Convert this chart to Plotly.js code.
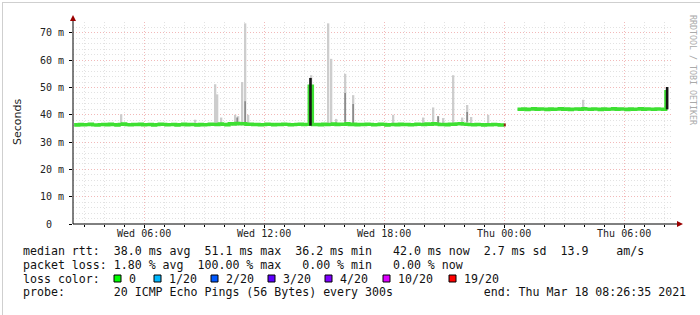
<!DOCTYPE html>
<html><head><meta charset="utf-8">
<script src="https://cdn.plot.ly/plotly-3.0.1.min.js"></script>
<style>html,body{margin:0;padding:0;background:#fff;} #chart{width:700px;height:315px;}</style>
</head><body><div id="chart"></div>
<script>
// ---- data ----
const xStart = '2021-03-17 02:26:35';
const xEnd = '2021-03-18 08:26:35';
const stepMinutes = 10;

const seg1Start = '2021-03-17 02:30';
const seg1Median = [
 36.4,36.2,36.5,36.3,36.4,36.6,36.3,36.2,36.4,36.5,
 36.3,36.6,36.4,36.2,36.5,36.7,36.4,36.3,36.5,36.4,
 36.6,36.3,36.4,36.5,36.2,36.4,36.6,36.5,36.3,36.4,
 36.5,36.2,36.4,36.6,36.3,36.5,36.4,36.2,36.5,36.3,
 36.4,36.6,36.5,36.4,36.7,36.5,36.3,36.8,36.6,36.9,
 36.7,36.8,36.5,36.6,36.4,36.5,36.3,36.4,36.6,36.5,
 36.3,36.5,36.4,36.6,36.5,36.3,36.4,36.5,36.6,36.4,
 36.5,50.5,36.4,36.5,36.3,36.6,36.4,36.5,36.7,36.4,
 36.6,36.5,36.8,36.4,36.6,36.3,36.5,36.4,36.6,36.5,
 36.3,36.4,36.6,36.5,36.2,36.4,36.5,36.3,36.6,36.4,
 36.5,36.3,36.4,36.6,36.5,36.4,36.7,36.5,36.8,36.6,
 36.4,36.5,36.3,36.6,36.5,36.7,36.8,36.6,36.5,36.4,
 36.3,36.5,36.4,36.2,36.4,36.3,36.5,36.4,36.2,36.3
];
const seg2Start = '2021-03-18 00:40';
const seg2Median = [
 42.1,42.0,42.2,41.9,42.1,42.3,42.0,42.2,42.1,41.9,
 42.2,42.0,42.1,42.3,42.0,42.2,41.9,42.1,42.2,42.0,
 42.3,42.1,42.0,42.2,42.1,41.9,42.2,42.0,42.1,42.3,
 42.0,42.2,42.1,41.9,42.2,42.0,42.1,42.3,42.0,42.2,
 42.1,42.0,42.2,42.1,42.0,48.5
];
const lossTailTimes = ['2021-03-17 23:59','2021-03-18 00:05'];
const lossTailValues = [36.3, 36.3];

const smokeTimes = ['2021-03-17 04:51','2021-03-17 08:33','2021-03-17 09:33','2021-03-17 09:39','2021-03-17 09:51','2021-03-17 10:33','2021-03-17 10:42','2021-03-17 10:54','2021-03-17 11:03','2021-03-17 11:12','2021-03-17 14:21','2021-03-17 15:12','2021-03-17 15:21','2021-03-17 15:36','2021-03-17 16:03','2021-03-17 16:27','2021-03-17 18:27','2021-03-17 19:57','2021-03-17 20:27','2021-03-17 20:42','2021-03-17 20:57','2021-03-17 21:27','2021-03-17 21:54','2021-03-17 22:09','2021-03-17 22:21','2021-03-17 23:12','2021-03-18 03:57'];
const smokeLow = [36.5,36.5,36.5,36.5,36.5,36.5,36.5,36.5,36.5,36.5,36.5,36.5,36.5,36.5,36.5,36.5,36.5,36.5,36.5,36.5,36.5,36.5,36.5,36.5,36.5,36.5,42.2];
const smokeHigh = [40.2,38.2,51.2,47.5,39.0,40.0,39.5,52.0,73.5,40.0,54.5,73.5,60.5,38.5,55.0,47.2,40.0,39.0,42.7,39.5,38.8,54.5,39.0,43.6,39.2,40.0,45.5];

const midTimes = ['2021-03-17 10:39','2021-03-17 11:03','2021-03-17 16:03','2021-03-17 16:27','2021-03-17 20:42','2021-03-17 22:09'];
const midLow = [37.0,37.0,37.5,37.0,37.0,37.5];
const midHigh = [39.0,45.0,48.0,44.0,39.5,41.0];

const blackTimes = ['2021-03-17 14:19','2021-03-18 08:09'];
const blackLow = [36.0,42.0];
const blackHigh = [53.5,50.2];

const xTickVals = ['2021-03-17 06:00','2021-03-17 12:00','2021-03-17 18:00','2021-03-18 00:00','2021-03-18 06:00'];
const xTickText = ['Wed 06:00','Wed 12:00','Wed 18:00','Thu 00:00','Thu 06:00'];
const yTickVals = [0,10,20,30,40,50,60,70];
const yTickText = ['0  ','10 m','20 m','30 m','40 m','50 m','60 m','70 m'];

const statLines = [
 'median rtt:  38.0 ms avg  51.1 ms max  36.2 ms min   42.0 ms now  2.7 ms sd  13.9    am/s',
 'packet loss: 1.80 % avg  100.00 % max   0.00 % min   0.00 % now',
 'loss color:',
 'probe:       20 ICMP Echo Pings (56 Bytes) every 300s             end: Thu Mar 18 08:26:35 2021'
];
const lossLabels = ['0','1/20','2/20','3/20','4/20','10/20','19/20'];
const lossColors = ['#00ff00','#00b8ff','#0059ff','#5e00ff','#7e00ff','#dd00ff','#ff0000'];
const yTitle = 'Seconds';
const watermark = 'RRDTOOL / TOBI OETIKER';

// ---- helpers ----
function makeTimes(start, n, stepMin){
  const t0 = Date.parse(start.replace(' ','T') + ':00Z');
  const out = [];
  for (let i=0;i<n;i++){
    out.push(new Date(t0 + i*stepMin*60000).toISOString().slice(0,19).replace('T',' '));
  }
  return out;
}
const L=73, R=673, T=22, B=224;
const W=R-L, H=B-T;
const px = p => (p-L)/W;
const py = p => (B-p)/H;
const nb = s => s.replace(/ /g,'\u00a0');

function barTrace(times, low, high, color, widthMin){
  return {type:'bar', x:times, base:low, y:high.map((h,i)=>h-low[i]),
    width:times.map(()=>widthMin*60000), marker:{color:color, line:{width:0}},
    hoverinfo:'skip'};
}
function segTrace(times, low, high, color, w){
  const x=[], y=[];
  times.forEach((t,i)=>{ x.push(t,t,null); y.push(low[i],high[i],null); });
  return {type:'scatter', mode:'lines', x:x, y:y, connectgaps:false, line:{color:color, width:w}, hoverinfo:'skip'};
}

const green = '#3ee032';
const traces = [
  barTrace(smokeTimes, smokeLow, smokeHigh, '#cdcdcd', 7),
  barTrace(midTimes, midLow, midHigh, '#8a8a8a', 5),
  {type:'scatter', mode:'lines', x:makeTimes(seg1Start, seg1Median.length, stepMinutes), y:seg1Median,
   line:{color:green, width:3.2, shape:'hvh'}, hoverinfo:'skip'},
  {type:'scatter', mode:'lines', x:makeTimes(seg2Start, seg2Median.length, stepMinutes), y:seg2Median,
   line:{color:green, width:3.2, shape:'hvh'}, hoverinfo:'skip'},
  {type:'scatter', mode:'lines', x:lossTailTimes, y:lossTailValues,
   line:{color:'#8b2a10', width:3}, hoverinfo:'skip'},
  segTrace(blackTimes, blackLow, blackHigh, '#151515', 2.6)
];

const mono = 'DejaVu Sans Mono';
const annotations = [];
const lineY = [251.5, 265, 278.5, 292];
statLines.forEach((s,i)=>{
  annotations.push({xref:'paper', yref:'paper', x:px(22), y:py(lineY[i]), xanchor:'left', yanchor:'middle',
    text:nb(s), showarrow:false, borderpad:0, font:{family:mono, size:11.6, color:'#111'}});
});
const boxX = [114,154,211,268,325,383,449];
const shapes = [];
lossLabels.forEach((lab,i)=>{
  annotations.push({xref:'paper', yref:'paper', x:px(boxX[i]+14), y:py(lineY[2]), xanchor:'left', yanchor:'middle',
    text:lab, showarrow:false, borderpad:0, font:{family:mono, size:11.6, color:'#111'}});
  shapes.push({type:'rect', xref:'paper', yref:'paper', x0:px(boxX[i]), x1:px(boxX[i]+7), y0:py(282), y1:py(275),
    fillcolor:lossColors[i], line:{color:'#000', width:1}});
});
annotations.push({xref:'paper', yref:'paper', x:px(17), y:py(122), xanchor:'center', yanchor:'middle', textangle:-90,
  text:yTitle, showarrow:false, borderpad:0, font:{family:'DejaVu Sans', size:11, color:'#222'}});
annotations.push({xref:'paper', yref:'paper', x:px(693), y:py(70), xanchor:'center', yanchor:'middle', textangle:90,
  text:nb(watermark), showarrow:false, borderpad:0, font:{family:mono, size:8.3, color:'#aaa'}});

// axes lines, arrows, frame
shapes.push({type:'line', xref:'paper', yref:'paper', x0:px(73), x1:px(679), y0:0, y1:0, line:{color:'#000', width:1}, layer:'above'});
shapes.push({type:'line', xref:'paper', yref:'paper', x0:0, x1:0, y0:0, y1:py(18), line:{color:'#000', width:1}, layer:'above'});
shapes.push({type:'path', xref:'paper', yref:'paper', layer:'above',
  path:`M ${px(73)},${py(15)} L ${px(70)},${py(21)} L ${px(76)},${py(21)} Z`, fillcolor:'#9a0000', line:{width:0}});
shapes.push({type:'path', xref:'paper', yref:'paper', layer:'above',
  path:`M ${px(683)},${py(224)} L ${px(677)},${py(221)} L ${px(677)},${py(227)} Z`, fillcolor:'#9a0000', line:{width:0}});
shapes.push({type:'line', xref:'paper', yref:'paper', x0:px(2), x1:px(700), y0:py(2.5), y1:py(2.5), line:{color:'#cfcfcf', width:1}});
shapes.push({type:'line', xref:'paper', yref:'paper', x0:px(2.5), x1:px(2.5), y0:py(2.5), y1:py(315), line:{color:'#cfcfcf', width:1}});

const majorGrid = '#f2b9b9';
const minorGrid = '#e2e2e2';
const layout = {
  width:700, height:315,
  margin:{l:L, r:700-R, t:T, b:315-B, pad:0},
  paper_bgcolor:'#fff', plot_bgcolor:'#fff',
  showlegend:false, barmode:'overlay', hovermode:false,
  xaxis:{type:'date', range:[xStart, xEnd], tickmode:'array', tickvals:xTickVals, ticktext:xTickText,
    showgrid:true, gridcolor:majorGrid, griddash:'1px,2px', gridwidth:1,
    ticks:'outside', ticklen:3, tickcolor:'#000', ticklabelstandoff:-3,
    tickfont:{family:mono, size:10, color:'#222'}, showline:false, zeroline:false,
    minor:{tickmode:'linear', tick0:'2021-03-17 00:00', dtick:3600000, showgrid:true, gridcolor:minorGrid, griddash:'1px,2px', ticks:'outside', ticklen:2, tickcolor:'#000'},
    fixedrange:true},
  yaxis:{range:[0,74], tickmode:'array', tickvals:yTickVals, ticktext:yTickText.map(nb),
    showgrid:true, gridcolor:majorGrid, griddash:'1px,2px', gridwidth:1,
    ticks:'outside', ticklen:3, tickcolor:'#000', ticklabelstandoff:3,
    tickfont:{family:mono, size:10, color:'#222'}, showline:false, zeroline:false,
    minor:{tickmode:'linear', tick0:0, dtick:2, showgrid:true, gridcolor:minorGrid, griddash:'1px,2px', ticks:'', ticklen:0},
    fixedrange:true},
  annotations:annotations, shapes:shapes
};
Plotly.newPlot('chart', traces, layout, {staticPlot:true, displayModeBar:false});
</script></body></html>
